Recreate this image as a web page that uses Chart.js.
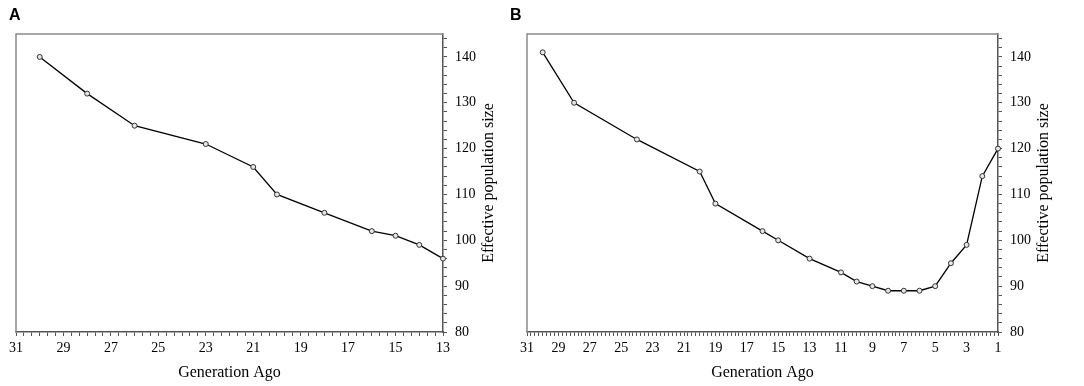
<!DOCTYPE html>
<html>
<head>
<meta charset="utf-8">
<title>Effective population size</title>
<script src="https://cdn.jsdelivr.net/npm/chart.js@4.4.1/dist/chart.umd.min.js"></script>
<style>
  html, body { margin: 0; padding: 0; background: #fff; }
  #wrap { position: relative; width: 1084px; height: 386px; }
  canvas { position: absolute; top: 0; }
  #panelA { left: 0; }
  #panelB { left: 505px; }
</style>
</head>
<body>
<div id="wrap">
  <canvas id="panelA" width="505" height="386"></canvas>
  <canvas id="panelB" width="579" height="386"></canvas>
</div>
<script>
// Panel A: generations ago and effective population size
const genA = [30, 28, 26, 23, 21, 20, 18, 16, 15, 14, 13];
const neA = [140, 132, 125, 121, 116, 110, 106, 102, 101, 99, 96];

// Panel B
const genB = [30, 28, 24, 20, 19, 16, 15, 13, 11, 10, 9, 8, 7, 6, 5, 4, 3, 2, 1];
const neB = [141, 130, 122, 115, 108, 102, 100, 96, 93, 91, 90, 89, 89, 89, 90, 95, 99, 114, 120];

// labelled ticks
const yTickLabels = [80, 90, 100, 110, 120, 130, 140];
const xTitle = 'Generation Ago';
const yTitle = 'Effective population size';

const serif = "'Liberation Serif', 'Times New Roman', serif";

// frame (top + left), panel letter and the y title reading upwards
const panelDecor = {
  id: 'panelDecor',
  afterDraw(chart, args, opts) {
    const { ctx, chartArea } = chart;
    ctx.save();
    ctx.strokeStyle = '#8a8a8a';
    ctx.lineWidth = 1.5;
    ctx.beginPath();
    ctx.moveTo(chartArea.left, chartArea.bottom);
    ctx.lineTo(chartArea.left, chartArea.top);
    ctx.lineTo(chartArea.right, chartArea.top);
    ctx.stroke();

    ctx.fillStyle = '#000';
    ctx.font = "bold 16px 'Liberation Sans', Arial, sans-serif";
    ctx.textBaseline = 'alphabetic';
    ctx.fillText(opts.letter, opts.letterX, 20);

    ctx.font = '16px ' + serif;
    ctx.textAlign = 'center';
    ctx.textBaseline = 'middle';
    ctx.translate(chartArea.right + 46, (chartArea.top + chartArea.bottom) / 2);
    ctx.rotate(-Math.PI / 2);
    ctx.fillText(yTitle, 0, 0);
    ctx.restore();
  }
};

function oddLabel(v) {
  const r = Math.round(v);
  return Math.abs(v - r) < 1e-6 && r % 2 === 1 ? String(r) : '';
}

function makeChart(id, gens, values, xMin, xStep, letter, letterX, pad) {
  return new Chart(document.getElementById(id), {
    type: 'line',
    data: {
      datasets: [{
        data: gens.map((g, i) => ({ x: g, y: values[i] })),
        borderColor: '#000',
        borderWidth: 1.3,
        pointRadius: 2.5,
        pointBackgroundColor: '#e6e6e6',
        pointBorderColor: '#333',
        pointBorderWidth: 1,
        tension: 0,
        clip: false
      }]
    },
    options: {
      responsive: false,
      animation: false,
      devicePixelRatio: 1,
      layout: { padding: pad },
      plugins: {
        legend: { display: false },
        tooltip: { enabled: false },
        panelDecor: { letter: letter, letterX: letterX }
      },
      scales: {
        x: {
          type: 'linear',
          reverse: true,
          min: xMin,
          max: 31,
          border: { color: '#555', width: 1.5 },
          grid: { drawOnChartArea: false, tickLength: 4, tickColor: '#555' },
          ticks: {
            stepSize: xStep,
            autoSkip: false,
            maxRotation: 0,
            padding: 4,
            color: '#000',
            font: { family: serif, size: 14 },
            callback: oddLabel
          },
          title: {
            display: true,
            text: xTitle,
            color: '#000',
            font: { family: serif, size: 16 },
            padding: { top: 2, bottom: 0 }
          }
        },
        y: {
          position: 'right',
          min: 80,
          max: 145,
          border: { color: '#555', width: 1.5 },
          grid: { drawOnChartArea: false, tickLength: 4, tickColor: '#555' },
          ticks: {
            stepSize: 2,
            includeBounds: false,
            autoSkip: false,
            padding: 8,
            color: '#000',
            font: { family: serif, size: 14 },
            callback: v => yTickLabels.includes(v) ? String(v) : ''
          }
        }
      }
    },
    plugins: [panelDecor]
  });
}

makeChart('panelA', genA, neA, 13, 1 / 3, 'A', 9, { left: 16, top: 34, right: 21, bottom: 4 });
makeChart('panelB', genB, neB, 1, 0.25, 'B', 5, { left: 22, top: 34, right: 45, bottom: 4 });
</script>
</body>
</html>
